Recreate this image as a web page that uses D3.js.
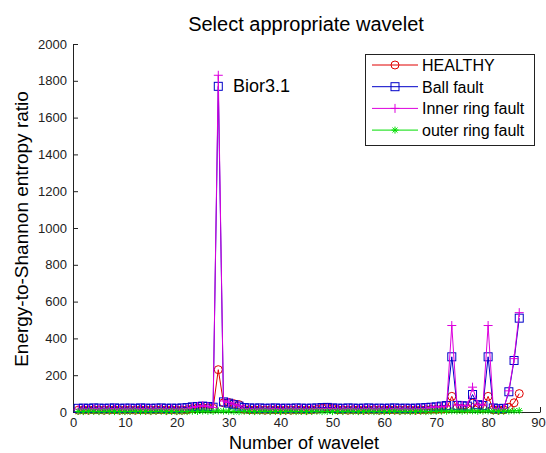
<!DOCTYPE html>
<html><head><meta charset="utf-8">
<script src="https://cdn.jsdelivr.net/npm/d3@7"></script>
<style>
body{margin:0;background:#fff;}
text{font-family:"Liberation Sans",Arial,sans-serif;}
</style></head>
<body>
<svg id="c" width="546" height="453"></svg>
<script>
const wavelets = d3.range(1, 87); // wavelet index 1..86
const healthy = [
 10,11,10,12,11,10,11,12,10,11, 11,10,12,11,10,11,12,10,11,10,
 10,12,18,22,24,22,20,230,50,52, 45,40,14,12,11,12,10,11,12,10,
 11,10,12,11,10,11,14,20,25,20, 12,11,10,12,11,10,11,12,10,11,
 12,11,10,12,11,10,11,12,14,14, 15,18,85,22,20,18,48,25,20,85,
 12,10,12,25,50,100];
const ball = [
 20,21,20,22,21,20,21,22,20,21, 21,20,22,21,20,21,22,20,21,20,
 22,24,28,30,32,30,26,1770,55,48, 40,32,24,22,21,22,20,21,22,20,
 21,20,22,21,20,21,22,24,25,22, 21,20,22,21,20,21,22,20,21,20,
 21,22,20,21,20,21,22,24,26,28, 32,35,300,36,34,32,95,40,35,300,
 22,18,20,110,280,510];
const inner = [
 15,16,15,17,16,15,16,17,15,16, 16,15,17,16,15,16,17,15,16,15,
 16,18,25,30,34,30,25,1830,60,52, 42,34,18,16,15,16,15,16,17,15,
 16,15,17,16,15,16,17,18,20,17, 16,15,17,16,15,16,17,15,16,15,
 16,17,15,16,15,16,17,20,24,28, 28,32,470,38,36,34,135,42,38,470,
 20,15,18,115,290,540];
const outer = [
 3,2,4,3,2,3,4,2,3,2, 3,4,2,3,2,3,4,2,3,2,
 3,2,4,3,5,4,3,6,5,4, 3,2,4,3,2,3,4,2,3,2,
 3,4,2,3,2,3,4,2,3,2, 3,2,4,3,2,3,4,2,3,2,
 3,4,2,3,2,3,4,2,3,4, 5,4,6,5,4,5,6,4,5,6,
 4,3,4,5,6,7];
const seriesNames = ["HEALTHY","Ball fault","Inner ring fault","outer ring fault"];
const seriesColors = ["#e00000","#0000c8","#dd00dd","#00dd00"];
const seriesMarkers = ["circle","square","plus","star"];
const seriesValues = [healthy, ball, inner, outer];
const xTicks = [0,10,20,30,40,50,60,70,80,90];
const yTicks = [0,200,400,600,800,1000,1200,1400,1600,1800,2000];

const svg = d3.select("#c");
const x = d3.scaleLinear().domain([0,90]).range([73,540]);
const y = d3.scaleLinear().domain([0,2000]).range([412,44]);

// axes (ticks inward)
const gx = svg.append("g").attr("transform","translate(0,412)")
  .call(d3.axisBottom(x).tickValues(xTicks).tickFormat(d3.format("d"))
    .tickSizeInner(-5).tickSizeOuter(0).tickPadding(6));
const gy = svg.append("g").attr("transform","translate(73,0)")
  .call(d3.axisLeft(y).tickValues(yTicks).tickFormat(d3.format("d"))
    .tickSizeInner(-5).tickSizeOuter(0).tickPadding(6));
[gx,gy].forEach(g=>{
  g.select(".domain").attr("stroke","#222");
  g.selectAll(".tick line").attr("stroke","#222");
  g.selectAll(".tick text").attr("fill","#222").style("font-size","13px")
   .style("font-family","'Liberation Sans',Arial,sans-serif");
});
gx.selectAll(".tick text").filter(d=>d===90).attr("dx",-2);

function marker(g, type, cx, cy, color){
  if(type==="circle"){
    g.append("circle").attr("cx",cx).attr("cy",cy).attr("r",4)
      .attr("fill","none").attr("stroke",color).attr("stroke-width",1);
  } else if(type==="square"){
    g.append("rect").attr("x",cx-4).attr("y",cy-4).attr("width",8).attr("height",8)
      .attr("fill","none").attr("stroke",color).attr("stroke-width",1);
  } else if(type==="plus"){
    g.append("path").attr("d",`M${cx-4.5},${cy}H${cx+4.5}M${cx},${cy-4.5}V${cy+4.5}`)
      .attr("stroke",color).attr("stroke-width",1);
  } else {
    const r=3.5, d=r*0.72;
    g.append("path").attr("d",`M${cx-r},${cy}H${cx+r}M${cx},${cy-r}V${cy+r}M${cx-d},${cy-d}L${cx+d},${cy+d}M${cx-d},${cy+d}L${cx+d},${cy-d}`)
      .attr("stroke",color).attr("stroke-width",1);
  }
}

const line = d3.line().x((d,i)=>x(wavelets[i])).y(d=>y(d));
seriesValues.forEach((vals,k)=>{
  const g = svg.append("g");
  g.append("path").attr("d",line(vals)).attr("fill","none")
    .attr("stroke",seriesColors[k]).attr("stroke-width",1);
  vals.forEach((v,i)=>marker(g, seriesMarkers[k], x(wavelets[i]), y(v), seriesColors[k]));
});

// title & labels
svg.append("text").attr("x",306).attr("y",31).attr("text-anchor","middle")
  .style("font-size","20px").attr("fill","#000").text("Select appropriate wavelet");
svg.append("text").attr("x",304).attr("y",449).attr("text-anchor","middle")
  .style("font-size","18px").attr("fill","#000").text("Number of wavelet");
svg.append("text").attr("transform","translate(28,229) rotate(-90)").attr("text-anchor","middle")
  .style("font-size","19px").attr("fill","#000").text("Energy-to-Shannon entropy ratio");
svg.append("text").attr("x",233).attr("y",92)
  .style("font-size","18px").attr("fill","#000").text("Bior3.1");

// legend
const lg = svg.append("g");
lg.append("rect").attr("x",365.5).attr("y",54.5).attr("width",169).attr("height",91)
  .attr("fill","#fff").attr("stroke","#222").attr("stroke-width",1);
seriesNames.forEach((n,k)=>{
  const cy = 65 + k*21.7;
  lg.append("line").attr("x1",372).attr("x2",418).attr("y1",cy).attr("y2",cy)
    .attr("stroke",seriesColors[k]).attr("stroke-width",1);
  marker(lg, seriesMarkers[k], 395, cy, seriesColors[k]);
  lg.append("text").attr("x",422).attr("y",cy+6).style("font-size","16px")
    .attr("fill","#000").text(n);
});
</script>
</body></html>
